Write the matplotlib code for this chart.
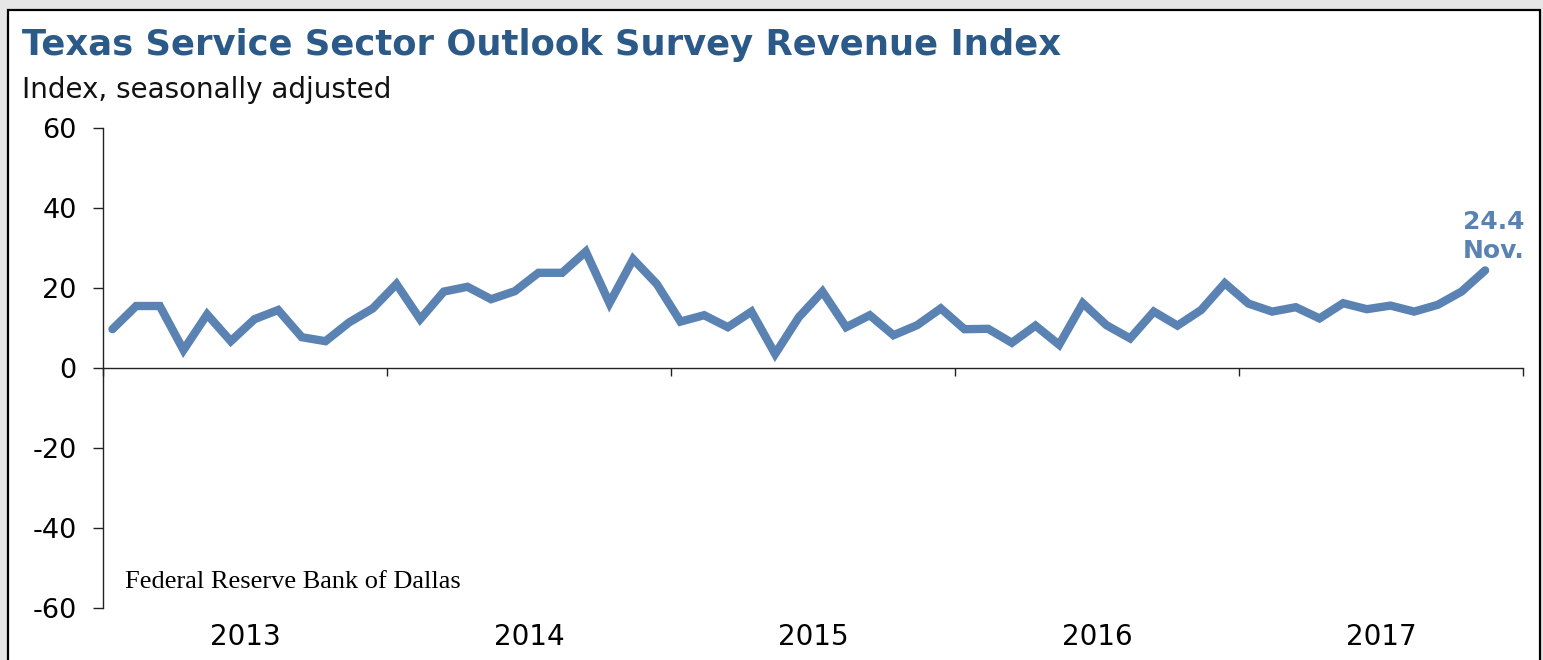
import matplotlib.pyplot as plt
import matplotlib.patches as patches
import matplotlib.transforms as mtransforms
import numpy as np

# monthly revenue index, Jan 2013 - Nov 2017
revenue = [
    9.7, 15.5, 15.5, 4.5, 13.4, 6.7, 12.2, 14.5, 7.7, 6.7, 11.4, 14.9,       # 2013
    21.0, 12.2, 19.1, 20.3, 17.2, 19.2, 23.8, 23.8, 29.1, 16.2, 27.2, 21.0,  # 2014
    11.6, 13.2, 10.2, 14.1, 3.5, 12.7, 19.1, 10.2, 13.2, 8.2, 10.7, 14.9,    # 2015
    9.7, 9.8, 6.3, 10.6, 5.8, 16.2, 10.7, 7.4, 14.1, 10.6, 14.5, 21.2,       # 2016
    16.1, 14.1, 15.2, 12.4, 16.2, 14.7, 15.6, 14.1, 15.8, 19.1, 24.4,        # 2017
]
years = ['2013', '2014', '2015', '2016', '2017']
yticks = [-60, -40, -20, 0, 20, 40, 60]
last_value = '24.4'
last_month = 'Nov.'

line_color = '#5A82B2'
title_color = '#2C5A88'

W, H = 1543, 660
fig = plt.figure(figsize=(W / 100, H / 100), dpi=100)
fig.patch.set_facecolor('#E6E6E6')

# white panel with black frame, behind everything
frame = patches.Rectangle((8 / W, -0.02), (1540 - 8) / W, (H - 10) / H + 0.02,
                          transform=fig.transFigure, facecolor='white',
                          edgecolor='black', linewidth=1.6, zorder=-10)
fig.patches.append(frame)

ax = fig.add_axes([103 / W, 1 - 608 / H, 1420 / W, 480 / H])
ax.set_facecolor('none')

x = np.arange(len(revenue)) + 0.4
ax.plot(x, revenue, color=line_color, lw=6, solid_joinstyle='miter',
        solid_capstyle='round', zorder=3)

ax.set_xlim(0, 12 * len(years))
ax.set_ylim(-60, 60)

for s in ['top', 'right']:
    ax.spines[s].set_visible(False)
ax.spines['bottom'].set_position(('data', 0))
ax.spines['bottom'].set_color('#222222')
ax.spines['left'].set_color('#222222')
ax.spines['bottom'].set_linewidth(1.0)
ax.spines['left'].set_linewidth(1.0)

ax.set_yticks(yticks)
ax.set_yticklabels([str(v) for v in yticks], fontsize=19.5, family='DejaVu Sans')
ax.tick_params(axis='y', direction='out', length=7, width=1, color='#222222', pad=12)
ax.set_xticks(np.arange(0, 12 * len(years) + 1, 12))
ax.set_xticklabels([])
ax.tick_params(axis='x', direction='out', length=6, width=1, color='#222222')

# year labels at the bottom, centred on each year
trans = mtransforms.blended_transform_factory(ax.transData, fig.transFigure)
for i, yr in enumerate(years):
    ax.text(12 * i + 6, 1 - 637 / H, yr, transform=trans, ha='center', va='center',
            fontsize=20, family='DejaVu Sans')

# last value label
ax.annotate(last_value, xy=(x[-1], revenue[-1]), xytext=(28, 29.5),
            textcoords='offset points', ha='right', va='baseline',
            fontsize=18, fontweight='bold', color=line_color)
ax.annotate(last_month, xy=(x[-1], revenue[-1]), xytext=(28, 8.6),
            textcoords='offset points', ha='right', va='baseline',
            fontsize=18, fontweight='bold', color=line_color)

fig.text(22 / W, 1 - 55 / H, 'Texas Service Sector Outlook Survey Revenue Index',
         fontsize=25.5, fontweight='bold', color=title_color, ha='left', va='baseline')
fig.text(22 / W, 1 - 98 / H, 'Index, seasonally adjusted', fontsize=20,
         color='#111111', ha='left', va='baseline')
ax.text(125 / W, 1 - 588 / H, 'Federal Reserve Bank of Dallas', transform=fig.transFigure,
        fontsize=19, family='Liberation Serif', ha='left', va='baseline')

fig.savefig('out.png', dpi=100, facecolor=fig.get_facecolor())
